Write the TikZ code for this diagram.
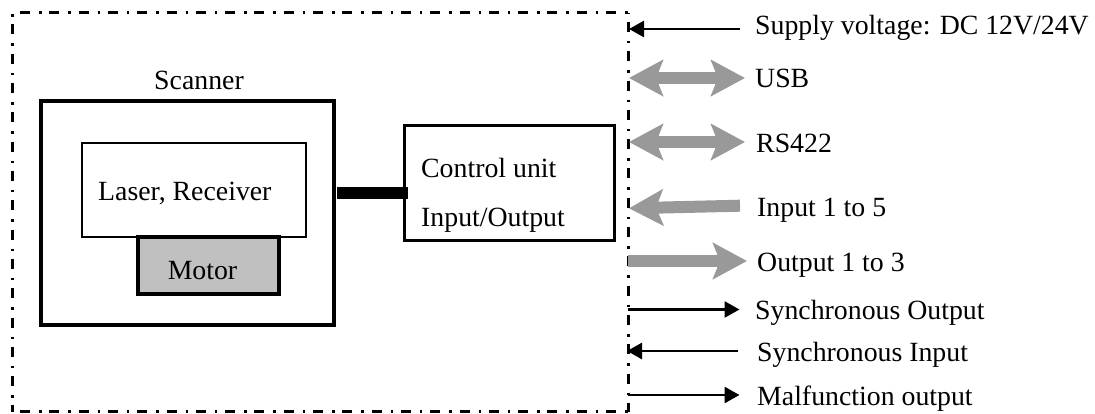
\documentclass[tikz,border=0pt]{standalone}
\usepackage{fontspec}
\setmainfont{Liberation Serif}
\usetikzlibrary{arrows.meta}
\definecolor{arrowgray}{RGB}{153,153,153}
\definecolor{motorgray}{RGB}{192,192,192}
\tikzset{
 lbl/.style={anchor=base west,inner sep=0pt,font=\fontsize{27.8}{32}\selectfont},
 boxtext/.style={inner sep=0pt,font=\fontsize{27.8}{32}\selectfont},
 thinbox/.style={draw=black,line width=2.7pt,fill=white,outer sep=0pt},
 thickbox/.style={draw=black,line width=4pt,outer sep=0pt},
 sig/.style={draw=black,line width=2.7pt,-{Triangle[length=15pt,width=16pt]}},
 bus/.style={draw=arrowgray,line width=12pt,-{Stealth[length=34pt,width=36pt,inset=7pt]}},
 bibus/.style={draw=arrowgray,line width=12pt,{Stealth[length=34pt,width=36pt,inset=7pt]}-{Stealth[length=34pt,width=36pt,inset=7pt]}},
 border/.style={draw=black,line width=3pt,dash pattern=on 10pt off 9pt on 2.5pt off 7.8pt}
}
\begin{document}
\begin{tikzpicture}[x=1pt,y=-1pt]
\useasboundingbox (0,0) rectangle (1095,414);
\coordinate (tl) at (12.7,13); \coordinate (tr) at (628,13);
\coordinate (bl) at (12.7,411.5); \coordinate (br) at (628,411.5);
\draw[border,dash phase=22pt] (tl) -- (tr);
\draw[border,dash phase=17.8pt] (tl) -- (bl);
\draw[border,dash phase=20.3pt] (tr) -- (br);
\draw[border,dash phase=22pt] (bl) -- (br);
\node[thickbox,minimum width=293.5pt,minimum height=223.5pt,anchor=north west] (scanner) at (40.5,101.5) {};
\node[boxtext,anchor=base] (scannerlabel) at (199,90) {Scanner};
\node[thinbox,minimum width=224pt,minimum height=94pt,anchor=north west] (laser) at (82,143) {};
\node[boxtext,anchor=base west] (lasertext) at (98,201) {Laser, Receiver};
\node[thickbox,fill=motorgray,minimum width=141pt,minimum height=57pt,anchor=north west] (motor) at (138,237) {};
\node[boxtext,anchor=base] (motortext) at (202.5,279) {Motor};
\node[thinbox,minimum width=210pt,minimum height=115pt,anchor=north west] (control) at (404.5,125.5) {};
\node[boxtext,anchor=base west] (controltext1) at (421,178) {Control unit};
\node[boxtext,anchor=base west] (controltext2) at (421,227) {Input/Output};
\path (scanner.east) ++(3,-20) coordinate (linkstart);
\draw[black,line width=12pt,shorten >=-3.5pt] (linkstart) -- (linkstart -| control.west);
\node[lbl] (supply) at (755,35) {Supply voltage: DC 12V/24V};
\node[lbl] (usb) at (755,88) {USB};
\node[lbl] (rs) at (756,153) {RS422};
\node[lbl] (input) at (757,217) {Input 1 to 5};
\node[lbl] (output) at (757,271) {Output 1 to 3};
\node[lbl] (syncout) at (755,319) {Synchronous Output};
\node[lbl] (syncin) at (757,361) {Synchronous Input};
\node[lbl] (malf) at (757,405) {Malfunction output};
\coordinate (a1) at (629,29); \coordinate (b1) at (740,29);
\coordinate (a2) at (629,78); \coordinate (b2) at (745,78);
\coordinate (a3) at (629,142); \coordinate (b3) at (745,142);
\coordinate (a4) at (629,208.3); \coordinate (b4) at (740,205.7);
\coordinate (a5) at (628,261); \coordinate (b5) at (747,261);
\coordinate (a6) at (628,309.5); \coordinate (b6) at (739.5,309.5);
\coordinate (a7) at (627,351); \coordinate (b7) at (738,351);
\coordinate (a8) at (628,395); \coordinate (b8) at (739.5,395);
\draw[sig] (b1) -- (a1);
\draw[bibus] (a2) -- (b2);
\draw[bibus] (a3) -- (b3);
\draw[bus] (b4) -- (a4);
\draw[bus] (a5) -- (b5);
\draw[sig] (a6) -- (b6);
\draw[sig] (b7) -- (a7);
\draw[sig] (a8) -- (b8);
\end{tikzpicture}
\end{document}
